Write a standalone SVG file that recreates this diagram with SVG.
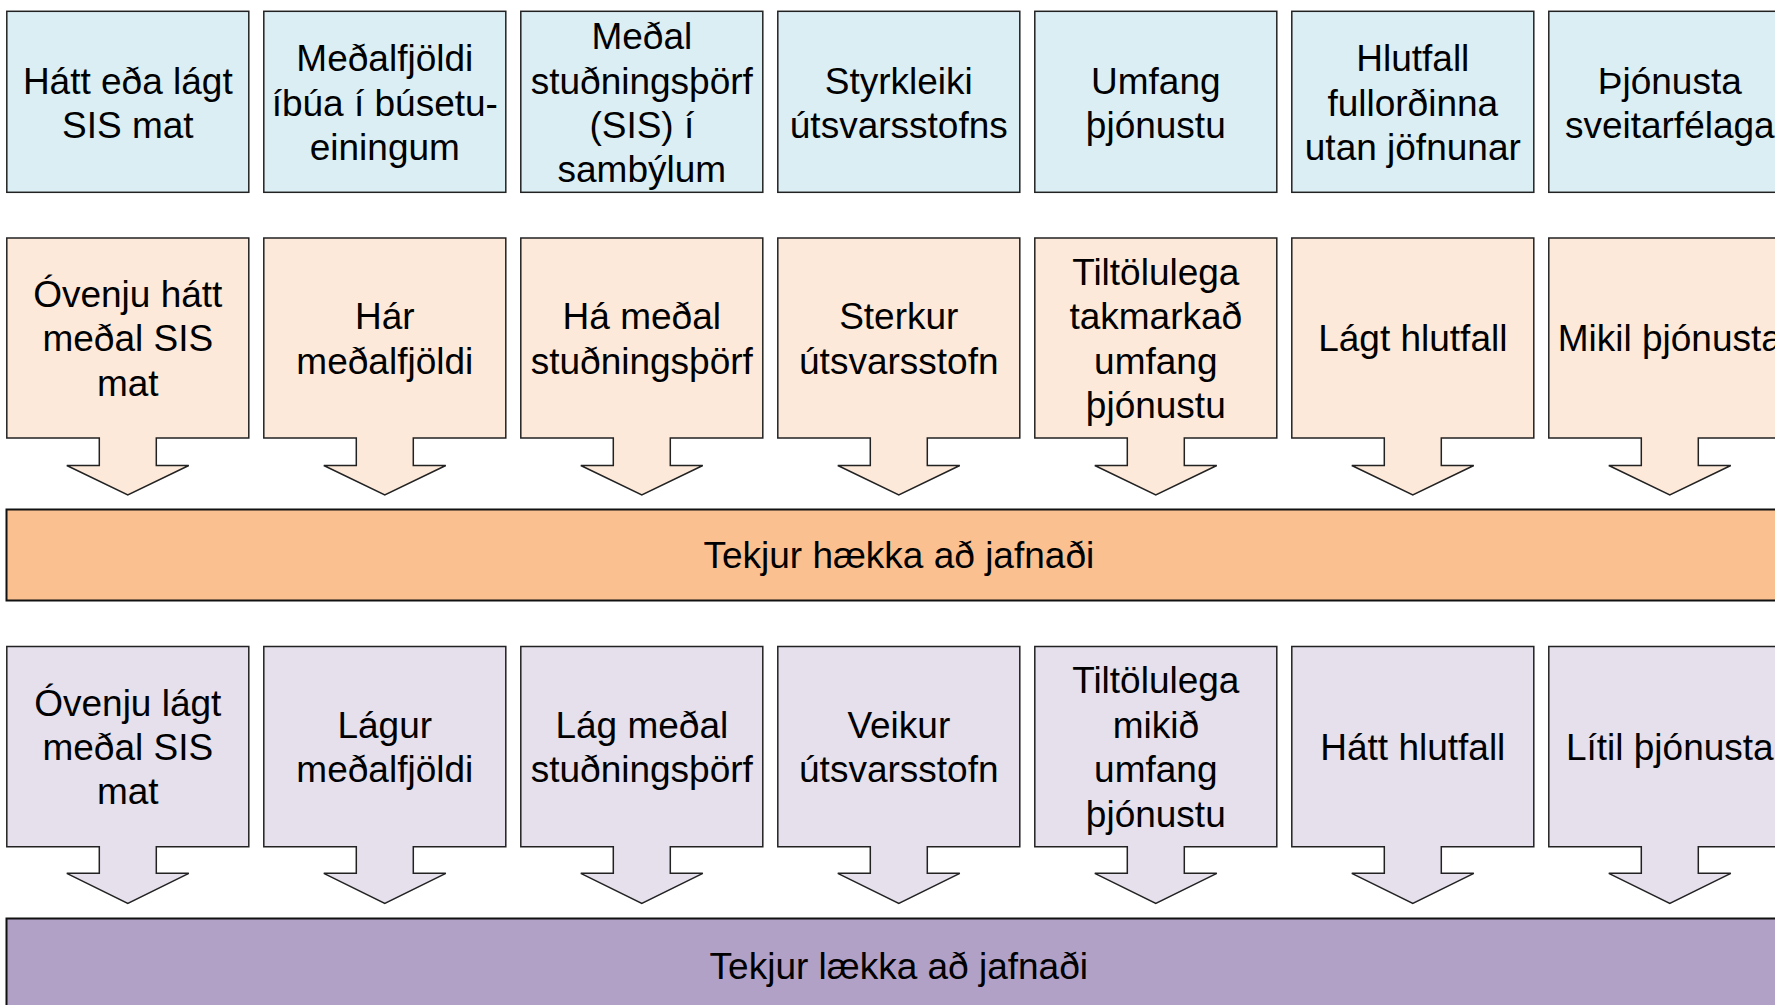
<svg xmlns="http://www.w3.org/2000/svg" width="1775" height="1005" viewBox="0 0 1775 1005">
<style>
text{font-family:"Liberation Sans",Arial,sans-serif;font-size:37px;fill:#000;text-anchor:middle}
.s{stroke:#222;stroke-width:1.5}
.b{stroke:#111;stroke-width:2}
.r1{fill:#DBEEF4}
.r2{fill:#FDE9D9}
.r3{fill:#E5E0EC}
.o{fill:#FAC090}
.p{fill:#B2A1C7}
</style>
<rect width="1775" height="1005" fill="#fff"/>
<!-- Row 1 -->
<g id="r1n1"><rect class="s r1" x="6.8" y="11.3" width="242" height="181"/><text x="127.8" y="93.5">Hátt eða lágt</text><text x="127.8" y="137.9">SIS mat</text></g>
<g id="r1n2"><rect class="s r1" x="263.8" y="11.3" width="242" height="181"/><text x="384.8" y="71.3">Meðalfjöldi</text><text x="384.8" y="115.7">íbúa í búsetu-</text><text x="384.8" y="160.1">einingum</text></g>
<g id="r1n3"><rect class="s r1" x="520.8" y="11.3" width="242" height="181"/><text x="641.8" y="49.1">Meðal</text><text x="641.8" y="93.5">stuðningsþörf</text><text x="641.8" y="137.9">(SIS) í</text><text x="641.8" y="182.3">sambýlum</text></g>
<g id="r1n4"><rect class="s r1" x="777.8" y="11.3" width="242" height="181"/><text x="898.8" y="93.5">Styrkleiki</text><text x="898.8" y="137.9">útsvarsstofns</text></g>
<g id="r1n5"><rect class="s r1" x="1034.8" y="11.3" width="242" height="181"/><text x="1155.8" y="93.5">Umfang</text><text x="1155.8" y="137.9">þjónustu</text></g>
<g id="r1n6"><rect class="s r1" x="1291.8" y="11.3" width="242" height="181"/><text x="1412.8" y="71.3">Hlutfall</text><text x="1412.8" y="115.7">fullorðinna</text><text x="1412.8" y="160.1">utan jöfnunar</text></g>
<g id="r1n7"><rect class="s r1" x="1548.8" y="11.3" width="242" height="181"/><text x="1669.8" y="93.5">Þjónusta</text><text x="1669.8" y="137.9">sveitarfélaga</text></g>
<!-- Row 2 (boxes with block arrows) -->
<g id="r2n1"><path class="s r2" d="M6.8,238H248.8V438H156.3V465.5H188.8L127.8,495L66.8,465.5H99.3V438H6.8Z"/><text x="127.8" y="307">Óvenju hátt</text><text x="127.8" y="351.4">meðal SIS</text><text x="127.8" y="395.8">mat</text></g>
<g id="r2n2"><path class="s r2" d="M263.8,238H505.8V438H413.3V465.5H445.8L384.8,495L323.8,465.5H356.3V438H263.8Z"/><text x="384.8" y="329.2">Hár</text><text x="384.8" y="373.6">meðalfjöldi</text></g>
<g id="r2n3"><path class="s r2" d="M520.8,238H762.8V438H670.3V465.5H702.8L641.8,495L580.8,465.5H613.3V438H520.8Z"/><text x="641.8" y="329.2">Há meðal</text><text x="641.8" y="373.6">stuðningsþörf</text></g>
<g id="r2n4"><path class="s r2" d="M777.8,238H1019.8V438H927.3V465.5H959.8L898.8,495L837.8,465.5H870.3V438H777.8Z"/><text x="898.8" y="329.2">Sterkur</text><text x="898.8" y="373.6">útsvarsstofn</text></g>
<g id="r2n5"><path class="s r2" d="M1034.8,238H1276.8V438H1184.3V465.5H1216.8L1155.8,495L1094.8,465.5H1127.3V438H1034.8Z"/><text x="1155.8" y="284.8">Tiltölulega</text><text x="1155.8" y="329.2">takmarkað</text><text x="1155.8" y="373.6">umfang</text><text x="1155.8" y="418">þjónustu</text></g>
<g id="r2n6"><path class="s r2" d="M1291.8,238H1533.8V438H1441.3V465.5H1473.8L1412.8,495L1351.8,465.5H1384.3V438H1291.8Z"/><text x="1412.8" y="351.4">Lágt hlutfall</text></g>
<g id="r2n7"><path class="s r2" d="M1548.8,238H1790.8V438H1698.3V465.5H1730.8L1669.8,495L1608.8,465.5H1641.3V438H1548.8Z"/><text x="1669.8" y="351.4">Mikil þjónusta</text></g>
<!-- Orange bar -->
<g id="up"><rect class="b o" x="6.5" y="509.5" width="1785" height="91"/><text x="898.8" y="568.3">Tekjur hækka að jafnaði</text></g>
<!-- Row 3 -->
<g id="r3n1"><path class="s r3" d="M6.8,646.4H248.8V846.7H156.3V873.3H188.8L127.8,903.3L66.8,873.3H99.3V846.7H6.8Z"/><text x="127.8" y="715.5">Óvenju lágt</text><text x="127.8" y="759.9">meðal SIS</text><text x="127.8" y="804.3">mat</text></g>
<g id="r3n2"><path class="s r3" d="M263.8,646.4H505.8V846.7H413.3V873.3H445.8L384.8,903.3L323.8,873.3H356.3V846.7H263.8Z"/><text x="384.8" y="737.7">Lágur</text><text x="384.8" y="782.1">meðalfjöldi</text></g>
<g id="r3n3"><path class="s r3" d="M520.8,646.4H762.8V846.7H670.3V873.3H702.8L641.8,903.3L580.8,873.3H613.3V846.7H520.8Z"/><text x="641.8" y="737.7">Lág meðal</text><text x="641.8" y="782.1">stuðningsþörf</text></g>
<g id="r3n4"><path class="s r3" d="M777.8,646.4H1019.8V846.7H927.3V873.3H959.8L898.8,903.3L837.8,873.3H870.3V846.7H777.8Z"/><text x="898.8" y="737.7">Veikur</text><text x="898.8" y="782.1">útsvarsstofn</text></g>
<g id="r3n5"><path class="s r3" d="M1034.8,646.4H1276.8V846.7H1184.3V873.3H1216.8L1155.8,903.3L1094.8,873.3H1127.3V846.7H1034.8Z"/><text x="1155.8" y="693.3">Tiltölulega</text><text x="1155.8" y="737.7">mikið</text><text x="1155.8" y="782.1">umfang</text><text x="1155.8" y="826.5">þjónustu</text></g>
<g id="r3n6"><path class="s r3" d="M1291.8,646.4H1533.8V846.7H1441.3V873.3H1473.8L1412.8,903.3L1351.8,873.3H1384.3V846.7H1291.8Z"/><text x="1412.8" y="759.9">Hátt hlutfall</text></g>
<g id="r3n7"><path class="s r3" d="M1548.8,646.4H1790.8V846.7H1698.3V873.3H1730.8L1669.8,903.3L1608.8,873.3H1641.3V846.7H1548.8Z"/><text x="1669.8" y="759.9">Lítil þjónusta</text></g>
<!-- Purple bar -->
<g id="down"><rect class="b p" x="6.5" y="918.5" width="1785" height="91"/><text x="898.8" y="978.5">Tekjur lækka að jafnaði</text></g>
<g id="connectors"></g>
</svg>
